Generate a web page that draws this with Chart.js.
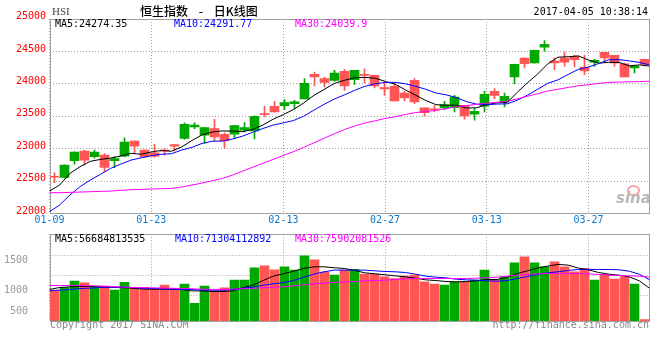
<!DOCTYPE html>
<html><head><meta charset="utf-8">
<script src="https://cdn.jsdelivr.net/npm/chart.js@4.4.0/dist/chart.umd.min.js"></script>
<style>
html,body{margin:0;padding:0;background:#fff;}
#wrap{position:relative;width:660px;height:360px;overflow:hidden;background:#fff;}
canvas{position:absolute;left:0;}
.t{position:absolute;white-space:pre;font-family:"DejaVu Sans Mono",monospace;font-size:10px;line-height:12px;color:#000;}
</style></head><body>
<div id="wrap">
<canvas id="main" width="660" height="230" style="top:0;width:660px;height:230px"></canvas>
<canvas id="vol" width="660" height="132" style="top:228px;width:660px;height:132px"></canvas>
<div class="t" style="left:52px;top:5px;font-family:'Liberation Serif',serif;font-size:11px;color:#444">HSI</div>
<div class="t" style="left:140px;top:4px;font-family:'Noto Sans CJK SC',sans-serif;font-size:12px;line-height:14px;word-spacing:8px;font-weight:500">恒生指数 - 日K线图</div>
<div class="t" style="right:12px;top:6px">2017-04-05 10:38:14</div>
<div class="t" style="left:55px;top:18px">MA5:24274.35</div>
<div class="t" style="left:174px;top:18px;color:#0000ff">MA10:24291.77</div>
<div class="t" style="left:295px;top:18px;color:#ff00ff">MA30:24039.9</div>
<div class="t" style="left:55px;top:233px">MA5:56684813535</div>
<div class="t" style="left:175px;top:233px;color:#0000ff">MA10:71304112892</div>
<div class="t" style="left:295px;top:233px;color:#ff00ff">MA30:75902081526</div>
<div class="t" style="left:50px;top:319px;color:#888">Copyright 2017 SINA.COM</div>
<div class="t" style="right:11px;top:319px;color:#888">http://finance.sina.com.cn</div>
<div style="position:absolute;left:627px;top:185px;width:9px;height:7px;border:2px solid #f5a5a5;border-radius:50%"></div>
<div class="t" style="left:616px;top:190px;font-family:'DejaVu Sans',sans-serif;font-size:15px;line-height:16px;font-weight:bold;font-style:italic;color:#b8b8b8">sina</div>
</div>
<script>
// ---------- data ----------
const dates = ['01-09','01-10','01-11','01-12','01-13','01-16','01-17','01-18','01-19','01-20',
'01-23','01-24','01-25','01-26','01-27','02-01','02-02','02-03','02-06','02-07',
'02-08','02-09','02-10','02-13','02-14','02-15','02-16','02-17','02-20','02-21',
'02-22','02-23','02-24','02-27','02-28','03-01','03-02','03-03','03-06','03-07',
'03-08','03-09','03-10','03-13','03-14','03-15','03-16','03-17','03-20','03-21',
'03-22','03-23','03-24','03-27','03-28','03-29','03-30','03-31','04-03','04-05'];
const tickDates = ['01-09','01-23','02-13','02-27','03-13','03-27'];

const opens = [22565,22557,22813,22962,22875,22900,22813,22885,23116,22977,
22936,22967,23064,23157,23336,23208,23310,23223,23223,23285,
23274,23541,23654,23664,23695,23767,24146,24080,24054,24192,
24064,24146,24131,23941,23962,23859,24054,23628,23608,23628,
23633,23669,23531,23654,23885,23721,24105,24398,24321,24567,
24351,24398,24423,24259,24336,24485,24439,24310,24244,24377];
const highs = [22628,22750,22950,22977,22977,22926,22874,23167,23116,22980,
23069,23003,23064,23398,23398,23330,23454,23244,23360,23403,
23505,23654,23731,23757,23746,24080,24182,24105,24208,24223,
24210,24233,24131,24028,24013,23885,24080,23630,23664,23731,
23823,23670,23618,23885,23926,23859,24305,24400,24520,24669,
24403,24490,24439,24439,24377,24490,24440,24321,24285,24380];
const lows = [22475,22550,22762,22746,22854,22644,22705,22874,22936,22870,
22864,22900,22967,23141,23310,23080,23121,23003,23151,23259,
23151,23490,23567,23603,23613,23767,23967,23951,24039,23900,
23992,24013,23936,23823,23736,23736,23695,23505,23567,23603,
23567,23454,23438,23567,23772,23644,24003,24244,24318,24505,
24218,24274,24259,24141,24269,24326,24274,24105,24167,24274];
const closes = [22559,22746,22946,22823,22946,22710,22849,23100,23039,22874,
22885,22962,23039,23377,23362,23326,23182,23121,23357,23326,
23500,23526,23567,23710,23721,24008,24105,24023,24167,23967,
24208,24131,23967,23921,23736,23782,23721,23557,23598,23680,
23797,23505,23577,23839,23823,23808,24300,24310,24516,24608,
24321,24336,24372,24198,24362,24398,24321,24105,24274,24300];

const ma5 = [22346,22439,22618,22721,22804,22834,22855,22886,22929,22914,
22949,22972,22960,23027,23125,23213,23257,23274,23270,23262,
23297,23366,23455,23526,23605,23706,23822,23913,24005,24054,
24094,24099,24088,24039,23993,23907,23825,23743,23679,23668,
23671,23627,23631,23680,23708,23710,23869,24016,24151,24308,
24411,24418,24431,24367,24318,24333,24330,24277,24292,24274];
const ma10 = [22028,22131,22285,22413,22515,22603,22695,22762,22823,22859,
22892,22913,22923,22978,23020,23081,23115,23117,23149,23194,
23255,23312,23364,23398,23434,23502,23594,23684,23765,23829,
23900,23961,24001,24022,24023,24001,23962,23916,23859,23830,
23789,23726,23687,23679,23688,23691,23748,23824,23916,24008,
24061,24144,24223,24259,24313,24372,24374,24354,24330,24292];
const ma30 = [22321,22321,22326,22331,22336,22341,22346,22357,22367,22372,
22377,22382,22387,22408,22439,22469,22505,22541,22592,22654,
22715,22775,22835,22895,22955,23020,23090,23160,23230,23294,
23349,23395,23429,23466,23492,23528,23557,23572,23591,23618,
23648,23666,23684,23700,23715,23731,23768,23808,23847,23889,
23917,23944,23970,23987,24008,24021,24028,24031,24035,24040];

// turnover, 亿
const volume = [533,580,689,660,602,602,533,667,580,580,
562,620,562,637,307,602,516,573,707,707,
920,955,885,937,880,1128,1059,845,793,880,
892,811,811,764,736,776,793,677,637,620,
677,677,707,880,707,764,1007,1111,1007,937,
1024,937,851,910,707,806,724,764,637,24];
const volMa5 = [545,580,591,597,597,591,585,580,568,556,
550,550,550,545,521,521,510,510,521,574,
620,700,776,816,862,909,938,938,921,909,
874,834,816,799,781,764,741,712,700,683,
677,683,694,718,718,753,822,868,915,950,
979,967,915,886,839,810,793,764,694,567];
const volMa10 = [521,533,545,562,568,580,585,585,580,568,
562,556,550,545,545,533,533,533,545,568,
585,620,643,665,700,758,810,851,880,880,
880,880,868,857,851,839,810,776,758,747,
723,712,706,694,689,700,735,770,810,834,
851,874,892,892,892,892,886,862,810,713];
const volMa30 = [614,614,614,612,609,604,596,588,582,577,
574,570,566,562,557,550,547,546,550,557,
564,577,584,590,608,625,643,657,667,677,
683,694,700,706,718,729,735,735,735,735,
735,735,741,747,758,776,793,805,816,822,
822,822,822,816,805,793,787,781,776,759];
const volTickLabels = ['1500','1000','500'];

// ---------- styling / layout ----------
const RED = '#ff5555', GREEN = '#00a800';
const GRID = '#a0a0a0', FRAME = '#a0a0a0';
const MONO = 'DejaVu Sans Mono';
const volLabelLevels = [1042, 521, 174];   // where the panel prints its labels
const volGridLevels = [434, 781, 1128];     // dotted guide rows of the panel
const candleColors = closes.map((c, i) => c > opens[i] ? GREEN : RED);
const tickIdx = tickDates.map(d => dates.indexOf(d));

const framePlugin = {
  id: 'frame',
  beforeDatasetsDraw(chart) {
    const {ctx, chartArea: a} = chart;
    ctx.save();
    ctx.strokeStyle = FRAME; ctx.lineWidth = 1;
    const l = Math.round(a.left) + 0.5, r = Math.floor(a.right) + 0.5;
    const t = Math.round(a.top) + 0.5, b = Math.floor(a.bottom) + 0.5;
    ctx.strokeRect(l, t, r - l, b - t);
    ctx.restore();
  }
};

function lineDs(arr, color) {
  return {type: 'line', data: arr.map((v, i) => ({x: i, y: v})), xAxisID: 'x', yAxisID: 'y',
    borderColor: color, borderWidth: 1, pointRadius: 0, tension: 0, fill: false, order: 0};
}

const xLinear = (showLabels, h) => ({
  type: 'linear', position: 'bottom', min: 0, max: dates.length - 1,
  afterBuildTicks: ax => { ax.ticks = tickIdx.map(v => ({value: v})); },
  afterFit: ax => { ax.height = h; },
  ticks: {display: showLabels, autoSkip: false, maxRotation: 0, padding: 1,
    color: '#0b7ad1', font: {family: MONO, size: 10},
    callback: v => dates[v]},
  grid: {color: GRID, lineWidth: 1, drawTicks: false},
  border: {display: false, dash: [1, 2]}
});

new Chart(document.getElementById('main'), {
  data: {
    labels: dates,
    datasets: [
      {type: 'bar', data: lows.map((l, i) => [l, highs[i]]), xAxisID: 'xc', yAxisID: 'y',
        backgroundColor: candleColors, barThickness: 1, grouped: false, order: 2},
      {type: 'bar', data: opens.map((o, i) => [o, closes[i]]), xAxisID: 'xc', yAxisID: 'y',
        backgroundColor: candleColors, barThickness: 9, minBarLength: 1, grouped: false, order: 1},
      lineDs(ma30, '#ff00ff'), lineDs(ma10, '#0000ff'), lineDs(ma5, '#000000')
    ]
  },
  options: {
    responsive: false, animation: false, devicePixelRatio: 1,
    layout: {padding: {top: 19, right: 10.5, left: 0, bottom: 0}},
    plugins: {legend: {display: false}, tooltip: {enabled: false}},
    scales: {
      xc: {type: 'category', display: false, offset: true},
      x: xLinear(true, 16.5),
      y: {type: 'linear', position: 'left', min: 22000, max: 25000,
        afterFit: ax => { ax.width = 49.5; },
        ticks: {stepSize: 500, padding: 3.5, labelOffset: -2.5, color: '#ff0000',
          font: {family: MONO, size: 10}, callback: v => String(v)},
        grid: {color: GRID, lineWidth: 1, drawTicks: false},
        border: {display: false, dash: [1, 2]}}
    }
  },
  plugins: [framePlugin]
});

new Chart(document.getElementById('vol'), {
  data: {
    labels: dates,
    datasets: [
      {type: 'bar', data: volume, xAxisID: 'xc', yAxisID: 'y',
        backgroundColor: candleColors, barThickness: 9, grouped: false, order: 1},
      lineDs(volMa30, '#ff00ff'), lineDs(volMa10, '#0000ff'), lineDs(volMa5, '#000000')
    ]
  },
  options: {
    responsive: false, animation: false, devicePixelRatio: 1,
    layout: {padding: {top: 6.3, right: 10.5, left: 0, bottom: 39}},
    plugins: {legend: {display: false}, tooltip: {enabled: false}},
    scales: {
      xc: {type: 'category', display: false, offset: true},
      x: xLinear(false, 0),
      y: {type: 'linear', position: 'right', min: 0, max: 1500,
        afterBuildTicks: ax => { ax.ticks = volGridLevels.map(v => ({value: v})); },
        afterFit: ax => { ax.width = 0; },
        ticks: {display: false},
        grid: {color: GRID, lineWidth: 1, drawTicks: false},
        border: {display: false, dash: [1, 2]}},
      gap: {type: 'linear', position: 'left', min: 0, max: 1500, weight: 0,
        afterFit: ax => { ax.width = 21.5; },
        ticks: {display: false}, grid: {display: false, drawTicks: false},
        border: {display: false}},
      yl: {type: 'linear', position: 'left', min: 0, max: 1500, weight: 1,
        afterBuildTicks: ax => { ax.ticks = volLabelLevels.map(v => ({value: v})); },
        afterFit: ax => { ax.width = 28; },
        ticks: {padding: 0, color: '#999999', font: {family: MONO, size: 10},
          callback: (v, i) => volTickLabels[i]},
        grid: {display: false, drawTicks: false},
        border: {display: false}}
    }
  },
  plugins: [framePlugin]
});
</script>
</body></html>
